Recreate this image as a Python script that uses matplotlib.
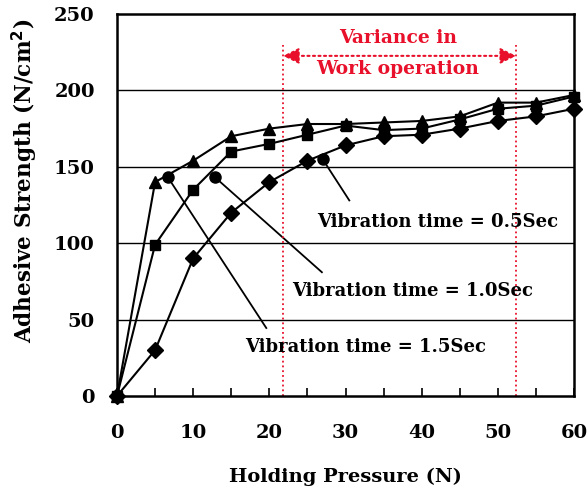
import matplotlib
matplotlib.use('Agg')
import matplotlib.pyplot as plt

# holding pressure (N)
pressure = [0, 5, 10, 15, 20, 25, 30, 35, 40, 45, 50, 55, 60]
# adhesive strength (N/cm2) for each vibration time
tri_vals = [0, 140, 154, 170, 175, 178, 178, 179, 180, 183, 192, 192, 197]
sq_vals = [0, 99, 135, 160, 165, 171, 177, 174, 175, 181, 188, 190, 196]
dia_vals = [0, 30, 90, 120, 140, 154, 164, 170, 171, 175, 180, 183, 188]

labels = ['Vibration time = 0.5Sec', 'Vibration time = 1.0Sec', 'Vibration time = 1.5Sec']
# pointer dots (on curves) and pointer ends (near labels)
dot_x = [27, 12.9, 6.7]
dot_y = [155, 143, 143]
end_x = [30.5, 26.9, 19.6]
end_y = [128, 81, 44.5]
label_x = [26.3, 23.0, 16.8]
label_y = [114, 69, 32]

var_lo, var_hi = 21.8, 52.4

plt.rcParams['font.family'] = ['DejaVu Serif']
plt.rcParams['font.weight'] = 'bold'

fig = plt.figure(figsize=(5.88, 4.96), dpi=100)
ax = fig.add_axes([117 / 588, 1 - 396 / 496, 457 / 588, 382 / 496])

for yv in [50, 100, 150, 200]:
    ax.axhline(yv, color='black', lw=1.0, zorder=1)

ax.plot(pressure, tri_vals, 'k-', marker='^', ms=9, lw=1.5, zorder=3, clip_on=False)
ax.plot(pressure, sq_vals, 'k-', marker='s', ms=7.5, lw=1.5, zorder=3, clip_on=False)
ax.plot(pressure, dia_vals, 'k-', marker='D', ms=8, lw=1.5, zorder=3, clip_on=False)

# pointers and labels
for i in range(3):
    ax.plot([dot_x[i], end_x[i]], [dot_y[i], end_y[i]], 'k-', lw=1.3, zorder=2)
    ax.plot(dot_x[i], dot_y[i], 'ko', ms=8, zorder=2)
    ax.text(label_x[i], label_y[i], labels[i], fontsize=13, fontweight='bold',
            ha='left', va='center', zorder=4)

# variance region
red = '#e8102a'
for xv in [var_lo, var_hi]:
    ax.plot([xv, xv], [0, 230], color=red, ls=':', lw=1.3, zorder=2)
ax.annotate('', xy=(var_lo, 222.6), xytext=(var_hi, 222.6),
            arrowprops=dict(arrowstyle='<|-|>', color=red, ls=':', lw=1.5,
                            mutation_scale=24, shrinkA=0, shrinkB=0))
ax.text(36.9, 234, 'Variance in', color=red, fontsize=13.5, fontweight='bold',
        ha='center', va='center')
ax.text(36.9, 214, 'Work operation', color=red, fontsize=13.5, fontweight='bold',
        ha='center', va='center')

ax.set_xlim(0, 60)
ax.set_ylim(0, 250)
ax.set_xticks(range(0, 61, 10))
ax.set_xticks(range(0, 61, 5), minor=True)
ax.set_yticks(range(0, 251, 50))
ax.tick_params(axis='x', which='both', direction='in', length=6, width=1.2, pad=20,
               labelsize=14)
ax.tick_params(axis='y', length=0, pad=16, labelsize=14)
for lab in ax.get_xticklabels() + ax.get_yticklabels():
    lab.set_fontweight('bold')
for sp in ax.spines.values():
    sp.set_linewidth(1.8)

ax.set_xlabel('Holding Pressure (N)', fontsize=14, fontweight='bold', labelpad=19)
ax.set_ylabel('Adhesive Strength (N/cm$^\\mathbf{2}$)', fontsize=15.5, fontweight='bold')
ax.yaxis.set_label_coords(-0.168, 0.563)

fig.savefig('out.png', dpi=100)
